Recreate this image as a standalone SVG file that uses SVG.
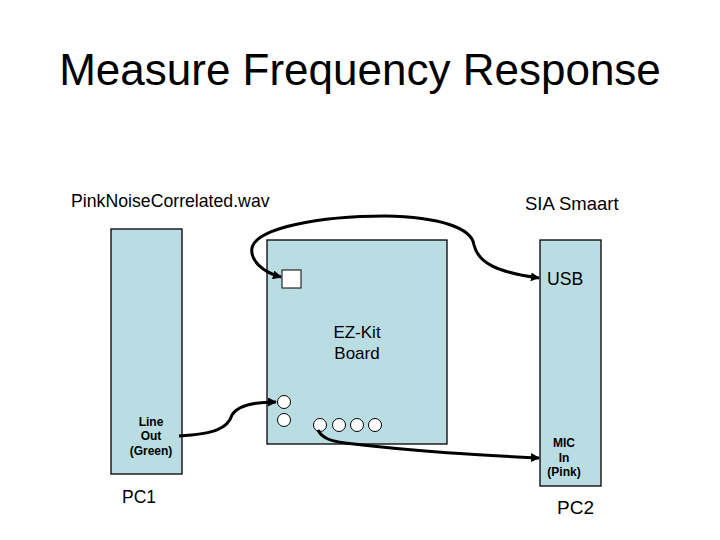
<svg xmlns="http://www.w3.org/2000/svg" width="720" height="540" viewBox="0 0 720 540">
<defs>
<style>
.box{fill:#b9dde2;stroke:#000;stroke-width:1.3}
.t{font-family:"Liberation Sans",Arial,sans-serif;fill:#000}
.lbl{font-size:17.7px}
.small{font-family:"Liberation Sans",Arial,sans-serif;font-size:12px;font-weight:bold;fill:#000;text-anchor:middle}
.jack{fill:#fff;stroke:#000;stroke-width:1}
.wire{fill:none;stroke:#000;stroke-width:3}
</style>
<marker id="ah" viewBox="0 0 10 10" refX="9" refY="5" markerWidth="3" markerHeight="3" orient="auto-start-reverse" markerUnits="strokeWidth">
<path d="M0,0 L10,5 L0,10 z" fill="#000"/>
</marker>
</defs>
<rect width="720" height="540" fill="#fff"/>
<text class="t" x="360" y="85" font-size="44" text-anchor="middle">Measure Frequency Response</text>
<text class="t lbl" x="71" y="207">PinkNoiseCorrelated.wav</text>
<text class="t" x="525" y="210" font-size="18.5">SIA Smaart</text>

<g id="pc1">
<rect class="box" x="111" y="229" width="71" height="245"/>
<text class="small" x="151" y="426">Line</text>
<text class="small" x="151" y="440">Out</text>
<text class="small" x="151" y="455">(Green)</text>
<text class="t" x="122" y="503" font-size="17.5">PC1</text>
</g>

<g id="ezkit">
<rect class="box" x="267" y="240" width="180" height="204"/>
<rect class="jack" x="282" y="270" width="19" height="18"/>
<circle class="jack" cx="284" cy="402" r="6.5"/>
<circle class="jack" cx="284" cy="420" r="6.5"/>
<circle class="jack" cx="320" cy="425" r="6.5"/>
<circle class="jack" cx="339" cy="425" r="6.5"/>
<circle class="jack" cx="357" cy="425" r="6.5"/>
<circle class="jack" cx="375" cy="425" r="6.5"/>
<text class="t" x="357" y="338" font-size="17" text-anchor="middle">EZ-Kit</text>
<text class="t" x="357" y="359" font-size="17" text-anchor="middle">Board</text>
</g>

<g id="pc2">
<rect class="box" x="540" y="240" width="61" height="246"/>
<text class="t lbl" x="547" y="285">USB</text>
<text class="small" x="564" y="447" font-size="12.5">MIC</text>
<text class="small" x="564" y="462" font-size="12.5">In</text>
<text class="small" x="564" y="476" font-size="12.5">(Pink)</text>
<text class="t" x="557" y="514" font-size="19">PC2</text>
</g>

<g id="connectors">
<path class="wire" marker-start="url(#ah)" marker-end="url(#ah)" d="M281,277 C262,272 250,260 252,248 C256,228 320,216 385,216 C440,217 472,228 474,245 C478,262 495,272 539,278"/>
<path class="wire" marker-end="url(#ah)" d="M179,436 C215,434 228,428 232,415 C238,405 255,402 276,402"/>
<path class="wire" marker-end="url(#ah)" d="M318,430 C322,438 330,441 345,443 C420,452 480,455 539,458"/>
</g>
</svg>
